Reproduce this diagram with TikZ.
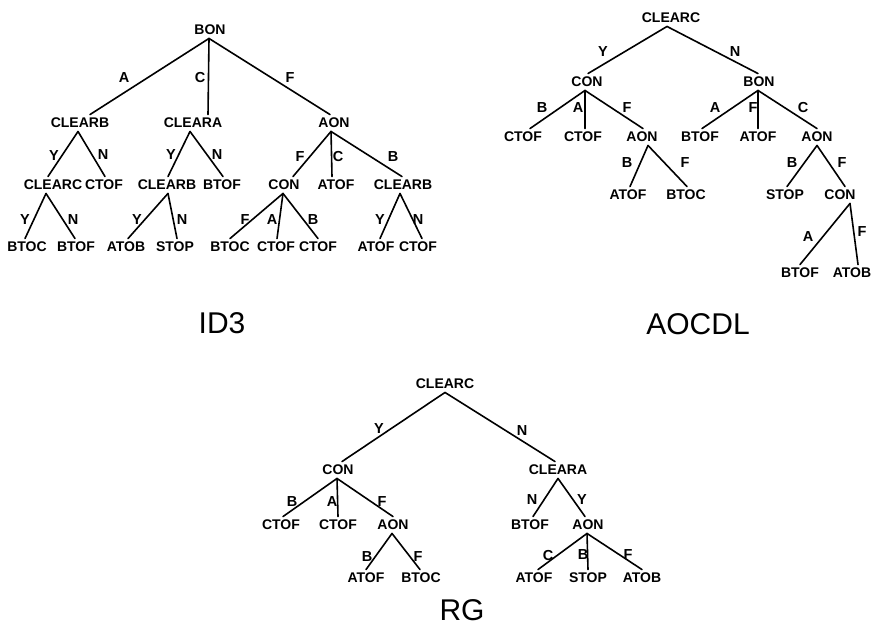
\documentclass[tikz,border=0pt]{standalone}
\usepackage{fontspec}
\setmainfont{Liberation Sans}
\newcommand\tlink[4]{\draw[link] ([xshift=#2pt]#1.south) -- ([xshift=#4pt]#3.north);}
\begin{document}
\begin{tikzpicture}[x=1pt,y=-1pt,
  lbl/.style={inner sep=0pt, outer sep=3.5pt, font=\fontsize{14}{14}\selectfont\bfseries},
  el/.style={inner sep=0pt, font=\fontsize{14.5}{14}\selectfont\bfseries},
  ttl/.style={inner sep=0pt, font=\fontsize{30}{30}\selectfont},
  link/.style={line width=1.6pt, line cap=round}]
\useasboundingbox (0,0) rectangle (882,629);
% ---------------- ID3 ----------------
\node[lbl] (i-bon) at (210,30) {BON};
\node[lbl] (i-clb) at (80,123) {CLEARB};
\node[lbl] (i-cla) at (193,123) {CLEARA};
\node[lbl] (i-aon) at (334,123) {AON};
\node[lbl] (i-clc) at (53,185) {CLEARC};
\node[lbl] (i-ctof1) at (104,185) {CTOF};
\node[lbl] (i-clb2) at (167,185) {CLEARB};
\node[lbl] (i-btof1) at (222,185) {BTOF};
\node[lbl] (i-con) at (284,185) {CON};
\node[lbl] (i-atof1) at (336,185) {ATOF};
\node[lbl] (i-clb3) at (403,185) {CLEARB};
\node[lbl] (i-btoc1) at (27,247) {BTOC};
\node[lbl] (i-btof2) at (76,247) {BTOF};
\node[lbl] (i-atob) at (126,247) {ATOB};
\node[lbl] (i-stop) at (175,247) {STOP};
\node[lbl] (i-btoc2) at (230,247) {BTOC};
\node[lbl] (i-ctof2) at (276,247) {CTOF};
\node[lbl] (i-ctof3) at (318,247) {CTOF};
\node[lbl] (i-atof2) at (376,247) {ATOF};
\node[lbl] (i-ctof4) at (418,247) {CTOF};
\node[ttl] (i-title) at (222,323) {ID3};
\tlink{i-bon}{-1}{i-clb}{10}
\tlink{i-bon}{-1}{i-cla}{15}
\tlink{i-bon}{-1}{i-aon}{-4}
\tlink{i-clb}{-2}{i-clc}{-5}
\tlink{i-clb}{-2}{i-ctof1}{1}
\tlink{i-cla}{-3}{i-clb2}{1}
\tlink{i-cla}{-3}{i-btof1}{1}
\tlink{i-aon}{-3}{i-con}{9}
\tlink{i-aon}{-3}{i-atof1}{-4}
\tlink{i-aon}{-3}{i-clb3}{-1}
\tlink{i-clc}{-7}{i-btoc1}{-2}
\tlink{i-clc}{-7}{i-btof2}{-1}
\tlink{i-clb2}{1}{i-atob}{2}
\tlink{i-clb2}{1}{i-stop}{2}
\tlink{i-con}{-1}{i-btoc2}{0}
\tlink{i-con}{-1}{i-ctof2}{1}
\tlink{i-con}{-1}{i-ctof3}{0}
\tlink{i-clb3}{-3}{i-atof2}{4}
\tlink{i-clb3}{-3}{i-ctof4}{4}
\node[el] (il1) at (124,78) {A};
\node[el] (il2) at (200,78) {C};
\node[el] (il3) at (290,78) {F};
\node[el] (il4) at (54,156) {Y};
\node[el] (il5) at (103,155) {N};
\node[el] (il6) at (171,155) {Y};
\node[el] (il7) at (217,155) {N};
\node[el] (il8) at (300,157) {F};
\node[el] (il9) at (338,157) {C};
\node[el] (il10) at (393,157) {B};
\node[el] (il11) at (25,220) {Y};
\node[el] (il12) at (73,220) {N};
\node[el] (il13) at (137,220) {Y};
\node[el] (il14) at (182,220) {N};
\node[el] (il15) at (245,220) {F};
\node[el] (il16) at (272,220) {A};
\node[el] (il17) at (313,220) {B};
\node[el] (il18) at (380,220) {Y};
\node[el] (il19) at (418,220) {N};
% ---------------- AOCDL ----------------
\node[lbl] (a-clc) at (671,18) {CLEARC};
\node[lbl] (a-con) at (587,82) {CON};
\node[lbl] (a-bon) at (759,82) {BON};
\node[lbl] (a-ctof1) at (523,137) {CTOF};
\node[lbl] (a-ctof2) at (583,137) {CTOF};
\node[lbl] (a-aon1) at (642,137) {AON};
\node[lbl] (a-btof1) at (700,137) {BTOF};
\node[lbl] (a-atof1) at (758,137) {ATOF};
\node[lbl] (a-aon2) at (817,137) {AON};
\node[lbl] (a-atof2) at (628,195) {ATOF};
\node[lbl] (a-btoc) at (686,195) {BTOC};
\node[lbl] (a-stop) at (785,195) {STOP};
\node[lbl] (a-con2) at (840,195) {CON};
\node[lbl] (a-btof2) at (800,273) {BTOF};
\node[lbl] (a-atob) at (852,273) {ATOB};
\node[ttl] (a-title) at (698,324) {AOCDL};
\tlink{a-clc}{-4}{a-con}{1}
\tlink{a-clc}{-4}{a-bon}{-1}
\tlink{a-con}{-2}{a-ctof1}{7}
\tlink{a-con}{-2}{a-ctof2}{2}
\tlink{a-con}{-2}{a-aon1}{1}
\tlink{a-bon}{-1}{a-btof1}{2}
\tlink{a-bon}{-1}{a-atof1}{0}
\tlink{a-bon}{-1}{a-aon2}{0}
\tlink{a-aon1}{6}{a-atof2}{2}
\tlink{a-aon1}{6}{a-btoc}{1}
\tlink{a-aon2}{0}{a-stop}{2}
\tlink{a-aon2}{0}{a-con2}{5}
\tlink{a-con2}{10}{a-btof2}{0}
\tlink{a-con2}{10}{a-atob}{6}
\node[el] (al1) at (603,52) {Y};
\node[el] (al2) at (735,52) {N};
\node[el] (al3) at (542,108) {B};
\node[el] (al4) at (578,108) {A};
\node[el] (al5) at (627,108) {F};
\node[el] (al6) at (715,108) {A};
\node[el] (al7) at (753,108) {F};
\node[el] (al8) at (803,108) {C};
\node[el] (al9) at (627,163) {B};
\node[el] (al10) at (685,163) {F};
\node[el] (al11) at (792,163) {B};
\node[el] (al12) at (842,163) {F};
\node[el] (al13) at (808,237) {A};
\node[el] (al14) at (862,232) {F};
% ---------------- RG ----------------
\node[lbl] (r-clc) at (445,384) {CLEARC};
\node[lbl] (r-con) at (338,470) {CON};
\node[lbl] (r-cla) at (558,470) {CLEARA};
\node[lbl] (r-ctof1) at (281,525) {CTOF};
\node[lbl] (r-ctof2) at (338,525) {CTOF};
\node[lbl] (r-aon1) at (393,525) {AON};
\node[lbl] (r-btof) at (530,525) {BTOF};
\node[lbl] (r-aon2) at (588,525) {AON};
\node[lbl] (r-atof1) at (366,578) {ATOF};
\node[lbl] (r-btoc) at (421,578) {BTOC};
\node[lbl] (r-atof2) at (534,578) {ATOF};
\node[lbl] (r-stop) at (588,578) {STOP};
\node[lbl] (r-atob) at (642,578) {ATOB};
\node[ttl] (r-title) at (462,610) {RG};
\tlink{r-clc}{0}{r-con}{4}
\tlink{r-clc}{0}{r-cla}{-3}
\tlink{r-con}{-1}{r-ctof1}{2}
\tlink{r-con}{-1}{r-ctof2}{0}
\tlink{r-con}{-1}{r-aon1}{0}
\tlink{r-aon1}{-1}{r-atof1}{0}
\tlink{r-aon1}{-1}{r-btoc}{-1}
\tlink{r-cla}{0}{r-btof}{3}
\tlink{r-cla}{0}{r-aon2}{-3}
\tlink{r-aon2}{-1}{r-atof2}{4}
\tlink{r-aon2}{-1}{r-stop}{0}
\tlink{r-aon2}{-1}{r-atob}{0}
\node[el] (rl1) at (379,429) {Y};
\node[el] (rl2) at (522,431) {N};
\node[el] (rl3) at (292,502) {B};
\node[el] (rl4) at (332,502) {A};
\node[el] (rl5) at (382,502) {F};
\node[el] (rl6) at (532,500) {N};
\node[el] (rl7) at (582,500) {Y};
\node[el] (rl8) at (367,557) {B};
\node[el] (rl9) at (418,557) {F};
\node[el] (rl10) at (548,555) {C};
\node[el] (rl11) at (583,555) {B};
\node[el] (rl12) at (628,555) {F};
\end{tikzpicture}
\end{document}
